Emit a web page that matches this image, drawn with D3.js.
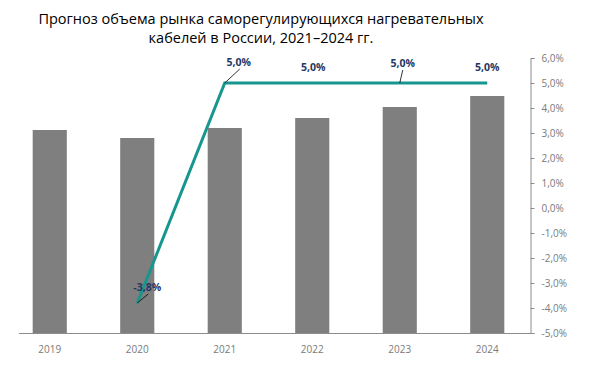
<!DOCTYPE html>
<html>
<head>
<meta charset="utf-8">
<script src="https://cdn.jsdelivr.net/npm/d3@7"></script>
<style>
  body { margin: 0; background: #fff; }
  text { font-family: "Open Sans", "Noto Sans", sans-serif; }
</style>
</head>
<body>
<script>
var width = 591,
    height = 370;

// data
var years = ["2019", "2020", "2021", "2022", "2023", "2024"];
var volume = [4.06, 3.90, 4.10, 4.30, 4.52, 4.74];   // bars (hidden left axis)
var growth = [null, -3.8, 5.0, 5.0, 5.0, 5.0];        // line, %
var growthTicks = [6, 5, 4, 3, 2, 1, 0, -1, -2, -3, -4, -5];
var titleLines = ["Прогноз объема рынка саморегулирующихся нагревательных",
                  "кабелей в России, 2021–2024 гг."];

// label offsets from their points [dx, dy, leader]
var labelPos = [null, [10, -16, true], [14, -21, true], [1, -16, false], [3, -20, true], [0, -16, false]];

var svg = d3.select("body")
    .append("svg")
    .attr("width", width)
    .attr("height", height);

var plotTop = 58, plotBottom = 333;

var x = d3.scaleBand()
    .domain(years)
    .range([6, 531])
    .paddingInner(0.61)
    .paddingOuter(0.305);

var yBar = d3.scaleLinear()
    .domain([0, 5.5])
    .range([plotBottom, plotTop]);

var yPct = d3.scaleLinear()
    .domain([-5, 6])
    .range([plotBottom, plotTop]);

function pct(d) {
    return d3.format(".1f")(d).replace(".", ",").replace("−", "-") + "%";
}

// title
svg.append("g")
    .selectAll("text")
    .data(titleLines)
    .enter().append("text")
    .attr("x", 261)
    .attr("y", function (d, i) { return 24 + i * 19; })
    .attr("text-anchor", "middle")
    .style("font-size", "14.5px")
    .style("fill", "#000")
    .text(function (d) { return d; });

// bars
svg.append("g")
    .selectAll("rect")
    .data(volume)
    .enter().append("rect")
    .attr("x", function (d, i) { return x(years[i]); })
    .attr("y", function (d) { return yBar(d); })
    .attr("width", x.bandwidth())
    .attr("height", function (d) { return plotBottom - yBar(d); })
    .style("fill", "#7f7f7f");

// baseline
svg.append("line")
    .attr("x1", 19)
    .attr("x2", 531)
    .attr("y1", plotBottom + 0.5)
    .attr("y2", plotBottom + 0.5)
    .style("stroke", "#8c8c8c")
    .style("stroke-width", 1);

// category labels
svg.append("g")
    .selectAll("text")
    .data(years)
    .enter().append("text")
    .attr("x", function (d) { return x(d) + x.bandwidth() / 2; })
    .attr("y", 353)
    .attr("text-anchor", "middle")
    .style("font-size", "10px")
    .style("fill", "#7a7a7a")
    .text(function (d) { return d; });

// right axis
var yAxis = d3.axisRight(yPct)
    .tickValues(growthTicks)
    .tickSize(4)
    .tickPadding(7)
    .tickFormat(pct);

var axisG = svg.append("g")
    .attr("transform", "translate(530.5,0)")
    .call(yAxis);

axisG.select(".domain").style("stroke", "#8c8c8c");
axisG.selectAll(".tick line").style("stroke", "#8c8c8c");
axisG.selectAll(".tick text")
    .style("font-family", "'Open Sans', sans-serif")
    .style("font-size", "10px")
    .style("fill", "#7a7a7a");

// growth line
var pts = growth.map(function (d, i) {
    return d === null ? null : [x(years[i]) + x.bandwidth() / 2, yPct(d)];
});

var line = d3.line()
    .defined(function (d) { return d !== null; });

svg.append("path")
    .attr("d", line(pts))
    .style("fill", "none")
    .style("stroke", "#17968f")
    .style("stroke-width", 3);

// data labels
var labels = svg.append("g");
growth.forEach(function (d, i) {
    if (d === null) return;
    var p = pts[i], o = labelPos[i];
    var lx = p[0] + o[0], ly = p[1] + o[1];
    if (o[2]) {
        labels.append("line")
            .attr("x1", lx + (o[0] > 5 ? 1 : 0))
            .attr("y1", ly + 7)
            .attr("x2", p[0])
            .attr("y2", p[1])
            .style("stroke", "#000")
            .style("stroke-width", 0.8);
    }
    labels.append("text")
        .attr("x", lx)
        .attr("y", ly + 3.7)
        .attr("text-anchor", "middle")
        .style("font-size", "10.5px")
        .style("font-weight", "bold")
        .style("fill", "#1f3864")
        .text(pct(d));
});
</script>
</body>
</html>
